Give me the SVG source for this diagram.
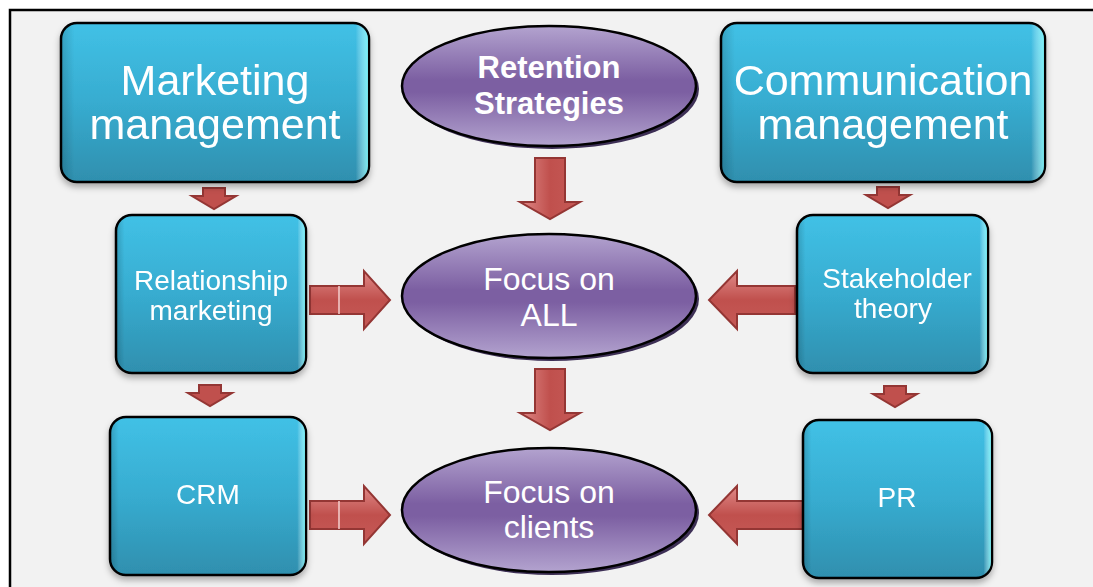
<svg xmlns="http://www.w3.org/2000/svg" width="1093" height="587" viewBox="0 0 1093 587">
<defs>
<linearGradient id="gBox" x1="0" y1="0" x2="0" y2="1">
<stop offset="0" stop-color="#41c1e6"/><stop offset="0.5" stop-color="#37acd0"/><stop offset="1" stop-color="#2f8fae"/>
</linearGradient>
<linearGradient id="gEdge" x1="0" y1="0" x2="1" y2="0">
<stop offset="0" stop-color="#000" stop-opacity="0.15"/><stop offset="0.04" stop-color="#000" stop-opacity="0"/><stop offset="0.96" stop-color="#fff" stop-opacity="0"/><stop offset="1" stop-color="#8ff" stop-opacity="0.8"/>
</linearGradient>
<linearGradient id="gEll" x1="0" y1="0" x2="0" y2="1">
<stop offset="0" stop-color="#b3a3cf"/><stop offset="0.45" stop-color="#7c5fa2"/><stop offset="0.55" stop-color="#7c5fa2"/><stop offset="1" stop-color="#b3a3cf"/>
</linearGradient>
<linearGradient id="gArrH" x1="0" y1="0" x2="0" y2="1">
<stop offset="0" stop-color="#e08a88"/><stop offset="0.5" stop-color="#c0504d"/><stop offset="1" stop-color="#c65a57"/>
</linearGradient>
<linearGradient id="gArrV" x1="0" y1="0" x2="1" y2="0">
<stop offset="0" stop-color="#e08a88"/><stop offset="0.5" stop-color="#c0504d"/><stop offset="1" stop-color="#c65a57"/>
</linearGradient>
<filter id="sh" x="-10%" y="-10%" width="120%" height="130%">
<feDropShadow dx="0" dy="4" stdDeviation="3" flood-color="#000" flood-opacity="0.3"/>
</filter>
</defs>
<style>
.box{fill:url(#gBox);stroke:#000;stroke-width:2.5}
.edge{fill:url(#gEdge);stroke:none}
.ell{fill:url(#gEll);stroke:#000;stroke-width:2.5}
.ellsh{fill:#3d2f55}
.ah{fill:url(#gArrH);stroke:#943634;stroke-width:2}
.av{fill:url(#gArrV);stroke:#943634;stroke-width:2}
.sm{fill:#c0504d;stroke:#943634;stroke-width:2}
.t{font-family:"Liberation Sans",Arial,sans-serif;fill:#fff;text-anchor:middle}
.big{font-size:43px}
.mid{font-size:32px}
.ret{font-size:31px;font-weight:bold}
.sml{font-size:28px}
.crm{font-size:28px}
</style>
<rect x="0" y="0" width="1093" height="587" fill="#fff"/>
<rect x="10" y="10" width="1090" height="590" fill="#f2f2f2" stroke="#000" stroke-width="2.5"/>

<g id="connectors">
<path class="sm" d="M203,188 H225 V196 H236 L214,209 L192,196 H203 Z"/>
<path class="sm" d="M199,385 H221 V393 H232 L210,406 L188,393 H199 Z"/>
<path class="sm" d="M877,187 H899 V195 H910 L888,208 L866,195 H877 Z"/>
<path class="sm" d="M884,386 H906 V394 H917 L895,407 L873,394 H884 Z"/>
<path class="av" d="M535,158 H565 V202 H580 L550,219 L520,202 H535 Z"/>
<path class="av" d="M535,369 H565 V413 H580 L550,430 L520,413 H535 Z"/>
<path class="ah" d="M310,286 H364 V271 L390,300 L364,329 V314 H310 Z"/>
<line x1="339" y1="286" x2="339" y2="314" stroke="#f5d0cf" stroke-width="1.5"/>
<path class="ah" d="M310,501 H364 V486 L390,515 L364,544 V529 H310 Z"/>
<line x1="339" y1="501" x2="339" y2="529" stroke="#f5d0cf" stroke-width="1.5"/>
<path class="ah" d="M795,286 H737 V271 L709,300 L737,329 V314 H795 Z"/>
<path class="ah" d="M803,501 H737 V486 L709,515 L737,544 V529 H803 Z"/>
</g>

<g id="n-marketing" filter="url(#sh)">
<rect class="box" x="61" y="23" width="308" height="159" rx="16"/>
<rect class="edge" x="62" y="24" width="306" height="157" rx="15"/>
<text class="t big" x="215" y="95">Marketing</text>
<text class="t big" x="215" y="139">management</text>
</g>
<g id="n-communication" filter="url(#sh)">
<rect class="box" x="721" y="23" width="324" height="159" rx="16"/>
<rect class="edge" x="722" y="24" width="322" height="157" rx="15"/>
<text class="t big" x="883" y="95">Communication</text>
<text class="t big" x="883" y="139">management</text>
</g>
<g id="n-relationship" filter="url(#sh)">
<rect class="box" x="116" y="215" width="190" height="158" rx="16"/>
<rect class="edge" x="117" y="216" width="188" height="156" rx="15"/>
<text class="t sml" x="211" y="290">Relationship</text>
<text class="t sml" x="211" y="320">marketing</text>
</g>
<g id="n-stakeholder" filter="url(#sh)">
<rect class="box" x="797" y="215" width="191" height="158" rx="16"/>
<rect class="edge" x="798" y="216" width="189" height="156" rx="15"/>
<text class="t sml" x="897" y="288">Stakeholder</text>
<text class="t sml" x="893" y="318">theory</text>
</g>
<g id="n-crm" filter="url(#sh)">
<rect class="box" x="110" y="417" width="196" height="158" rx="16"/>
<rect class="edge" x="111" y="418" width="194" height="156" rx="15"/>
<text class="t crm" x="208" y="504">CRM</text>
</g>
<g id="n-pr" filter="url(#sh)">
<rect class="box" x="803" y="420" width="189" height="158" rx="16"/>
<rect class="edge" x="804" y="421" width="187" height="156" rx="15"/>
<text class="t crm" x="897" y="507">PR</text>
</g>

<g id="n-retention">
<ellipse class="ellsh" cx="552" cy="89" rx="147" ry="60"/>
<ellipse class="ell" cx="549" cy="86" rx="147" ry="60"/>
<text class="t ret" x="549" y="78">Retention</text>
<text class="t ret" x="549" y="114">Strategies</text>
</g>
<g id="n-focusall">
<ellipse class="ellsh" cx="552" cy="299" rx="147" ry="62"/>
<ellipse class="ell" cx="549" cy="296" rx="147" ry="62"/>
<text class="t mid" x="549" y="290">Focus on</text>
<text class="t mid" x="549" y="326">ALL</text>
</g>
<g id="n-focusclients">
<ellipse class="ellsh" cx="552" cy="513" rx="147" ry="62"/>
<ellipse class="ell" cx="549" cy="510" rx="147" ry="62"/>
<text class="t mid" x="549" y="503">Focus on</text>
<text class="t mid" x="549" y="538">clients</text>
</g>
</svg>
